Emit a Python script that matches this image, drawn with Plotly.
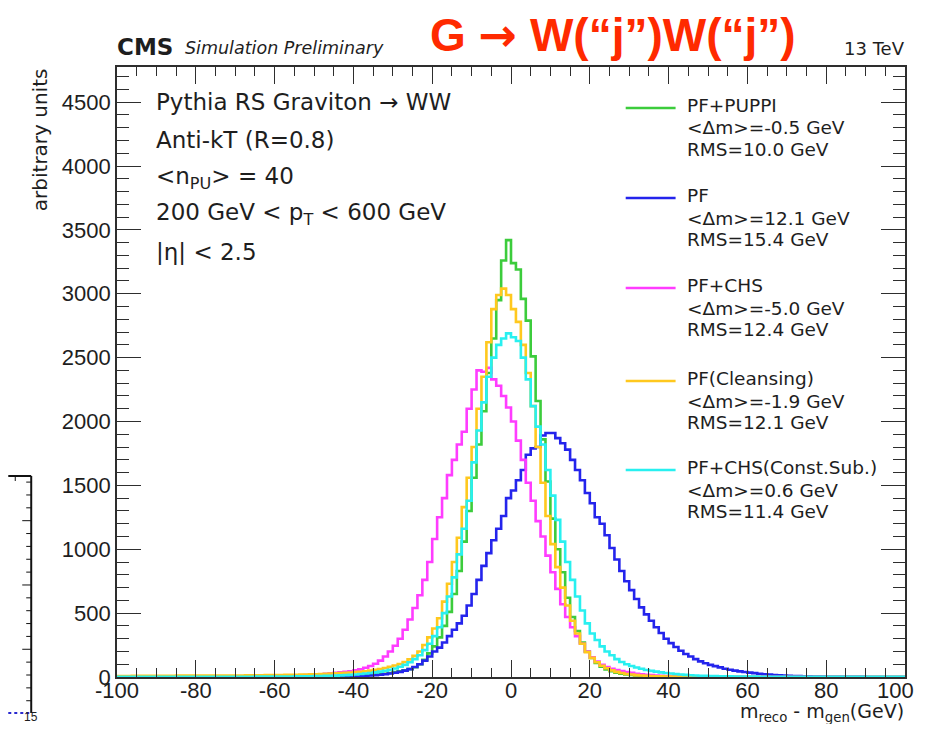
import plotly.graph_objects as go

# ---------------- data ----------------
x_min, x_max = -100.0, 100.0
bin_width = 1.25          # 160 bins over [-100, 100)

x_tick_vals = [-100, -80, -60, -40, -20, 0, 20, 40, 60, 80, 100]
x_tick_text = ["-100", "-80", "-60", "-40", "-20", "0", "20", "40", "60", "80", "100"]
y_tick_vals = [0, 500, 1000, 1500, 2000, 2500, 3000, 3500, 4000, 4500]
y_tick_text = ["0", "500", "1000", "1500", "2000", "2500", "3000", "3500", "4000", "4500"]

# counts per bin: [-100,-70) , then [-70,80) in 10 GeV groups of 8 bins, then [80,100)
puppi = ([0] * 24 +
         [1, 1, 1, 1, 1, 1, 2, 2,
          2, 2, 2, 2, 3, 3, 3, 3,
          4, 4, 5, 5, 6, 7, 8, 9,
          10, 12, 14, 16, 19, 22, 26, 31,
          38, 44, 52, 62, 76, 100, 135, 185,
          240, 310, 400, 510, 650, 830, 1060, 1300,
          1560, 1820, 2080, 2380, 2650, 2950, 3260, 3420,
          3240, 3190, 2960, 2790, 2510, 2160, 1860, 1530,
          1240, 1000, 820, 620, 470, 360, 270, 200,
          150, 110, 80, 60, 45, 34, 26, 20,
          16, 12, 10, 8, 6, 5, 4, 3,
          3, 2, 2, 2, 1, 1, 1, 1,
          1, 1, 0, 0, 0, 0, 0, 0,
          0, 0, 0, 0, 0, 0, 0, 0,
          0, 0, 0, 0, 0, 0, 0, 0] +
         [0] * 16)

pf = ([0] * 24 +
      [0, 0, 0, 0, 0, 0, 0, 0,
       1, 1, 1, 1, 1, 1, 2, 2,
       2, 2, 3, 3, 4, 4, 5, 6,
       7, 8, 10, 12, 15, 18, 22, 27,
       33, 40, 50, 62, 78, 100, 128, 160,
       200, 230, 270, 320, 370, 420, 480, 560,
       650, 760, 870, 970, 1070, 1160, 1260, 1400,
       1460, 1540, 1620, 1740, 1790, 1800, 1890, 1910,
       1910, 1870, 1830, 1780, 1700, 1620, 1540, 1440,
       1360, 1250, 1200, 1110, 1010, 920, 830, 750,
       680, 610, 545, 490, 440, 390, 345, 300,
       265, 235, 205, 180, 160, 140, 122, 108,
       95, 85, 75, 65, 57, 50, 44, 39,
       34, 30, 26, 22, 19, 16, 14, 12,
       10, 8, 7, 6, 5, 4, 3, 3] +
      [2, 2, 2, 1, 1, 1, 1, 1, 0, 0, 0, 0, 0, 0, 0, 0])

chs = ([2, 2, 2, 2, 2, 3, 3, 3, 3, 3, 3, 3, 4, 4, 4, 4, 4, 4, 4, 4, 5, 5, 5, 5] +
       [5, 5, 6, 6, 7, 7, 8, 8,
        9, 10, 11, 12, 13, 14, 16, 18,
        20, 22, 25, 28, 32, 36, 40, 45,
        52, 60, 72, 86, 104, 128, 160, 200,
        245, 300, 370, 450, 540, 640, 760, 900,
        1080, 1250, 1400, 1580, 1700, 1820, 1920, 2100,
        2250, 2400, 2390, 2420, 2330, 2280, 2200, 2110,
        2000, 1850, 1700, 1520, 1380, 1220, 1100, 950,
        820, 690, 570, 470, 390, 320, 260, 200,
        155, 120, 95, 78, 65, 55, 46, 38,
        32, 26, 22, 18, 15, 12, 10, 8,
        7, 6, 5, 4, 4, 3, 3, 2,
        2, 2, 1, 1, 1, 1, 1, 0,
        0, 0, 0, 0, 0, 0, 0, 0,
        0, 0, 0, 0, 0, 0, 0, 0] +
       [0] * 16)

cleansing = ([8, 8, 8, 9, 9, 9, 9, 10, 10, 10, 10, 10, 11, 11, 11, 11, 11, 11, 12, 12, 12, 12, 12, 12] +
             [12, 12, 13, 13, 14, 14, 15, 15,
              16, 16, 17, 17, 18, 19, 20, 21,
              22, 23, 25, 27, 29, 31, 33, 35,
              38, 41, 45, 50, 56, 63, 71, 80,
              90, 102, 118, 138, 165, 200, 250, 310,
              380, 460, 590, 730, 900, 1090, 1330, 1560,
              1800, 2100, 2350, 2620, 2880, 2990, 3040, 2990,
              2880, 2780, 2600, 2380, 2120, 1800, 1520, 1260,
              1040, 860, 700, 560, 440, 340, 260, 195,
              150, 115, 88, 68, 52, 40, 31, 24,
              19, 15, 12, 10, 8, 6, 5, 4,
              3, 3, 2, 2, 2, 1, 1, 1,
              1, 1, 1, 0, 0, 0, 0, 0,
              0, 0, 0, 0, 0, 0, 0, 0,
              0, 0, 0, 0, 0, 0, 0, 0] +
             [0] * 16)

constsub = ([1] * 24 +
            [2, 2, 2, 2, 3, 3, 3, 3,
             3, 4, 4, 4, 5, 5, 6, 6,
             7, 8, 9, 10, 11, 13, 15, 17,
             20, 23, 27, 31, 36, 42, 49, 57,
             67, 80, 95, 115, 140, 170, 210, 260,
             320, 390, 500, 630, 780, 960, 1160, 1380,
             1680, 1930, 2150, 2350, 2500, 2600, 2650, 2690,
             2660, 2630, 2500, 2330, 2120, 1960, 1820, 1620,
             1420, 1230, 1060, 900, 760, 630, 520, 420,
             340, 290, 240, 200, 170, 140, 118, 100,
             86, 74, 64, 55, 48, 42, 36, 31,
             27, 23, 20, 17, 14, 12, 10, 9,
             8, 7, 6, 5, 5, 4, 4, 3,
             3, 3, 2, 2, 2, 2, 1, 1,
             1, 1, 1, 1, 1, 1, 1, 1] +
            [1] * 16)

series_names = ["PF+PUPPI", "PF", "PF+CHS", "PF(Cleansing)", "PF+CHS(Const.Sub.)"]
series_mean = ["-0.5", "12.1", "-5.0", "-1.9", "0.6"]
series_rms = ["10.0", "15.4", "12.4", "12.1", "11.4"]
series_values = [puppi, pf, chs, cleansing, constsub]

# ---------------- styling ----------------
colors = ["#3ccc3c", "#2424ec", "#ff3cff", "#ffc81e", "#28f0f0"]
FONT = "Liberation Sans, Arial, Helvetica, sans-serif"
WIDE = "DejaVu Sans, Verdana, sans-serif"
ARROW = '<span style="font-family:DejaVu Sans">→</span>'
TXT = "#1e1e1e"
FRAME = "#2e2e2e"

# the page body has an 8px margin: work in page pixels, figure sits at (8, 8)
OFF = 8
PAGE_W, PAGE_H = 927, 732
W, H = PAGE_W - 2 * OFF, PAGE_H - 2 * OFF
PL, PR, PT, PB = 117, 907, 67, 677          # plot frame in page pixels
L, R, T, B = PL - OFF, W - (PR - OFF), PT - OFF, H - (PB - OFF)
FIG_RIGHT = OFF + W                         # right edge of the figure in page pixels


def px(x):
    return (x - PL) / (PR - PL)


def py(y):
    return (PB - y) / (PB - PT)


n_bins = int(round((x_max - x_min) / bin_width))
edges = [x_min + i * bin_width for i in range(n_bins + 1)]

fig = go.Figure()
for name, vals, col in zip(series_names, series_values, colors):
    fig.add_trace(go.Scatter(
        x=edges, y=list(vals) + [vals[-1]],
        mode="lines", line=dict(color=col, width=2.6, shape="hv"),
        name=name, showlegend=False, hoverinfo="skip"))

axis_common = dict(
    showline=True, linecolor=FRAME, linewidth=1.6, mirror="ticks",
    ticks="inside", tickcolor=FRAME, tickwidth=1.3,
    showgrid=False, zeroline=False, ticklabeloverflow="allow",
    tickfont=dict(family=FONT, size=22, color=TXT),
)

# the last x label would be clipped at the figure edge: drawn separately below
x_tick_shown = x_tick_text[:-1] + [""]

fig.update_layout(
    width=W, height=H,
    margin=dict(l=L, r=R, t=T, b=B, pad=0),
    paper_bgcolor="white", plot_bgcolor="white",
    font=dict(family=FONT, color=TXT),
    xaxis=dict(range=[x_min, x_max], tickmode="array", tickvals=x_tick_vals,
               ticktext=x_tick_shown, ticklen=17, ticklabelstandoff=-7,
               minor=dict(dtick=5, ticklen=9, ticks="inside", tickcolor=FRAME, tickwidth=1.2),
               **axis_common),
    yaxis=dict(range=[0, 4775], tickmode="array", tickvals=y_tick_vals,
               ticktext=y_tick_text, ticklen=24,
               minor=dict(dtick=100, ticklen=12, ticks="inside", tickcolor=FRAME, tickwidth=1.2),
               **axis_common),
)

ann = []


def add_text(text, x, y, size, xanchor="left", yanchor="middle", color=TXT, angle=0, family=WIDE):
    ann.append(dict(text=text, x=px(x), y=py(y), xref="paper", yref="paper",
                    xanchor=xanchor, yanchor=yanchor, showarrow=False,
                    textangle=angle, font=dict(family=family, size=size, color=color)))


# last x tick label, pulled inside the figure edge
add_text(x_tick_text[-1], FIG_RIGHT - 1, 690, 22, xanchor="right", family=FONT)

# header
add_text("<b>CMS</b>", 115, 47, 23)
add_text("<i>Simulation Preliminary</i>", 183, 48, 17.5)
add_text("13 TeV", 909, 49, 18, xanchor="right")
add_text("<b>G " + ARROW + " W(“j”)W(“j”)</b>", 614, 35, 46, xanchor="center",
         color="#ff2a00", family=FONT)

# info block
info_lines = ["Pythia RS Graviton " + ARROW + " WW", "Anti-kT (R=0.8)",
              "&lt;n<sub>PU</sub>&gt; = 40",
              "200 GeV &lt; p<sub>T</sub> &lt; 600 GeV", "|η| &lt; 2.5"]
for t, yy in zip(info_lines, [102, 140, 178, 214, 252]):
    add_text(t, 154, yy, 23)

# legend
shapes = []
leg_y = [105, 195, 285, 378, 467]
for name, m, rms, col, yy in zip(series_names, series_mean, series_rms, colors, leg_y):
    shapes.append(dict(type="line", xref="paper", yref="paper",
                       x0=px(627), x1=px(677), y0=py(yy + 3), y1=py(yy + 3),
                       line=dict(color=col, width=2.6)))
    add_text(name, 686, yy, 18.5)
    add_text("&lt;Δm&gt;=" + m + " GeV", 686, yy + 23, 18.5)
    add_text("RMS=" + rms + " GeV", 686, yy + 44, 18.5)

# axis titles
add_text("arbitrary units", 40, 140, 20, xanchor="center", angle=-90)
add_text("m<sub>reco</sub> - m<sub>gen</sub>(GeV)", 908, 712, 19, xanchor="right")

# fragment of neighbouring panel at the left edge
shapes.append(dict(type="line", xref="paper", yref="paper",
                   x0=px(OFF), x1=px(31), y0=py(476), y1=py(476),
                   line=dict(color="#111", width=2)))
shapes.append(dict(type="line", xref="paper", yref="paper",
                   x0=px(31), x1=px(31), y0=py(476), y1=py(713),
                   line=dict(color="#111", width=2)))
shapes.append(dict(type="line", xref="paper", yref="paper",
                   x0=px(OFF), x1=px(31), y0=py(713), y1=py(713),
                   line=dict(color="#2a2ad0", width=2, dash="dot")))
shapes.append(dict(type="line", xref="paper", yref="paper",
                   x0=px(15), x1=px(15), y0=py(476), y1=py(481),
                   line=dict(color="#111", width=1)))
for k in range(18):
    yy = 482.1 + 12.86 * k
    ln = 9 if k % 5 == 3 else 5
    shapes.append(dict(type="line", xref="paper", yref="paper",
                       x0=px(31 - ln), x1=px(31), y0=py(yy), y1=py(yy),
                       line=dict(color="#111", width=1)))
add_text("15", 31, 717, 12, xanchor="center", family=FONT)

fig.update_layout(annotations=ann, shapes=shapes)
fig.write_html("out.html", config={"displayModeBar": False})
